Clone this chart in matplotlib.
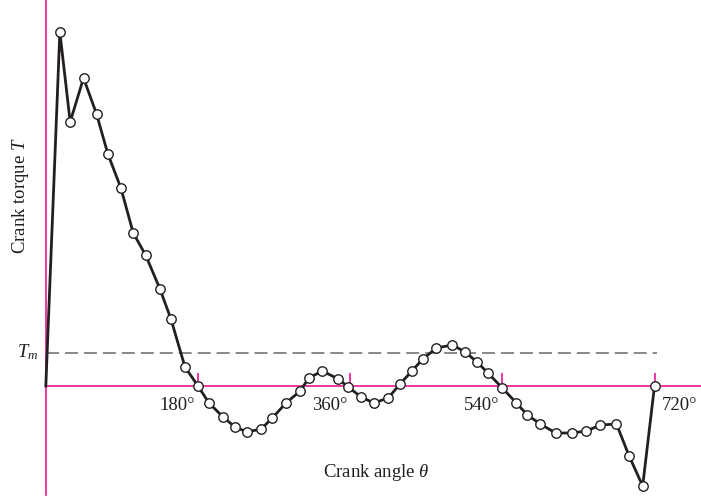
import matplotlib
matplotlib.use("Agg")
import matplotlib.pyplot as plt

plt.rcParams['mathtext.fontset'] = 'custom'
plt.rcParams['mathtext.rm'] = 'Liberation Serif'
plt.rcParams['mathtext.it'] = 'Liberation Serif:italic'

# Crank angle (deg) and crank torque (arbitrary units)
angle = [0, 16.6, 28.8, 44.6, 60, 73.4, 88.8, 103.4, 118, 135, 148, 164.6, 180,
         193, 209.6, 223.8, 238, 254.6, 268, 284, 301, 311, 327, 346, 357.7,
         373, 388, 405, 419, 433, 446, 462, 481, 496, 510, 523, 540,
         556.6, 569.6, 585, 603, 622, 639.5, 656, 675, 690, 706, 720]
torque = [0, 354, 264, 308, 272, 232, 198, 153, 131, 97, 67, 19, 0,
          -17, -31, -41, -46, -43, -32, -17, -5, 8, 15, 7, -1,
          -11, -17, -12, 2, 15, 27, 38, 41, 34, 24, 13, -2,
          -17, -29, -38, -47, -47, -45, -39, -38, -70, -100, 0]
mean_torque = 33
tick_angles = [180, 360, 540, 720]
tick_labels = ["180°", "360°", "540°", "720°"]

MAG = "#ec008c"
fig = plt.figure(figsize=(7.01, 4.98), dpi=100)
ax = fig.add_axes([0, 0, 1, 1])
ax.set_xlim(-54.2, 775.0)
ax.set_ylim(-112, 386)
ax.axis('off')

# axes lines
ax.plot([0, 0], [-109, 386], color=MAG, lw=1.1, zorder=1)
ax.plot([0, 775], [0, 0], color=MAG, lw=1.1, zorder=1)
ax.vlines(tick_angles, 0, 13, color=MAG, lw=1.1, zorder=1)

# mean torque dashed line
ax.plot([0, 723], [mean_torque, mean_torque], color="#7f7f7f", lw=1.3,
        dashes=(7.2, 3.3), zorder=2)

# torque curve
ax.plot(angle, torque, color="#231f20", lw=2.0, marker='o', ms=6.8,
        mfc='white', mec='#231f20', mew=1.0, markevery=list(range(1, len(angle))),
        zorder=3)

fs = 13.5
for a, lab in zip(tick_angles, tick_labels):
    if a == 720:
        ax.text(a + 8.7, -24, lab, ha='left', va='baseline', fontsize=fs,
                family='Liberation Serif', color='#231f20')
    else:
        ax.text(a - 3.5, -24, lab, ha='right', va='baseline', fontsize=fs,
                family='Liberation Serif', color='#231f20')

ax.text(391, -91, r"Crank angle $\theta$", ha='center', va='baseline',
        fontsize=fs, family='Liberation Serif', color='#231f20')
ax.text(-30.5, 190, r"Crank torque $T$", ha='center', va='center', rotation=90,
        fontsize=fs, family='Liberation Serif', color='#231f20')
ax.text(-9.2, 34, r"$T_m$", ha='right', va='center', fontsize=fs,
        family='Liberation Serif', color='#231f20')

fig.savefig("out.png", dpi=100)
